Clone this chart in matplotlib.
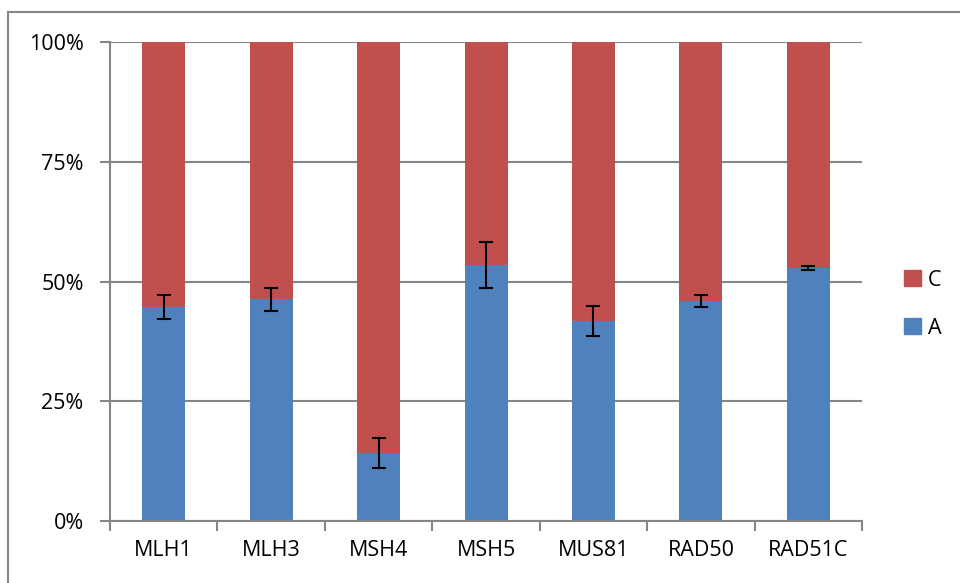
import matplotlib.pyplot as plt
from matplotlib.lines import Line2D
from matplotlib.patches import Patch
from matplotlib.ticker import PercentFormatter

genes = ["MLH1", "MLH3", "MSH4", "MSH5", "MUS81", "RAD50", "RAD51C"]
a_pct = [44.7, 46.3, 14.2, 53.4, 41.8, 45.9, 52.8]
a_err = [2.5, 2.4, 3.1, 4.8, 3.1, 1.3, 0.5]
c_pct = [100 - v for v in a_pct]

BLUE = "#4F81BD"
RED = "#C0504D"
GRAY = "#868686"

plt.rcParams["font.family"] = ["Open Sans", "DejaVu Sans"]

fig = plt.figure(figsize=(9.6, 5.83), dpi=100)
ax = fig.add_axes([0.1146, 0.1063, 0.898 - 0.1146, 0.928 - 0.1063])

x = list(range(len(genes)))
ax.bar(x, a_pct, width=0.4, color=BLUE, zorder=2)
ax.bar(x, c_pct, width=0.4, bottom=a_pct, color=RED, zorder=2)
ax.errorbar(x, a_pct, yerr=a_err, fmt="none", ecolor="black",
            elinewidth=1.5, capsize=5, capthick=1.5, zorder=3)

ax.set_xlim(-0.5, len(genes) - 0.5)
ax.set_ylim(0, 100)
ax.set_yticks([0, 25, 50, 75, 100])
ax.yaxis.set_major_formatter(PercentFormatter(decimals=0))
ax.set_xticks(x)
ax.set_xticklabels(genes)
ax.set_xticks([i - 0.5 for i in range(len(genes) + 1)], minor=True)
ax.tick_params(axis="x", which="major", length=0, pad=14, labelsize=15.5)
ax.tick_params(axis="x", which="minor", length=7, width=1.5, color=GRAY)
ax.tick_params(axis="y", length=7, width=1.5, color=GRAY, pad=12, labelsize=15.5)

ax.grid(axis="y", color=GRAY, linewidth=1.5, zorder=0)
ax.set_axisbelow(True)
for side in ["top", "right"]:
    ax.spines[side].set_visible(False)
for side in ["left", "bottom"]:
    ax.spines[side].set_color(GRAY)
    ax.spines[side].set_linewidth(1.5)

handles = [Patch(color=RED), Patch(color=BLUE)]
fig.legend(handles, ["C", "A"], loc="center left", bbox_to_anchor=(0.922, 0.478),
           frameon=False, fontsize=15.5, handlelength=0.75, handleheight=0.75,
           handletextpad=0.35, labelspacing=1.25)

# outer chart border (only top and left visible)
fig.add_artist(Line2D([8 / 960, 8 / 960], [0, 1 - 12 / 583], color=GRAY, linewidth=1.5))
fig.add_artist(Line2D([8 / 960, 1], [1 - 12 / 583, 1 - 12 / 583], color=GRAY, linewidth=1.5))

fig.savefig("out.png", dpi=100)
